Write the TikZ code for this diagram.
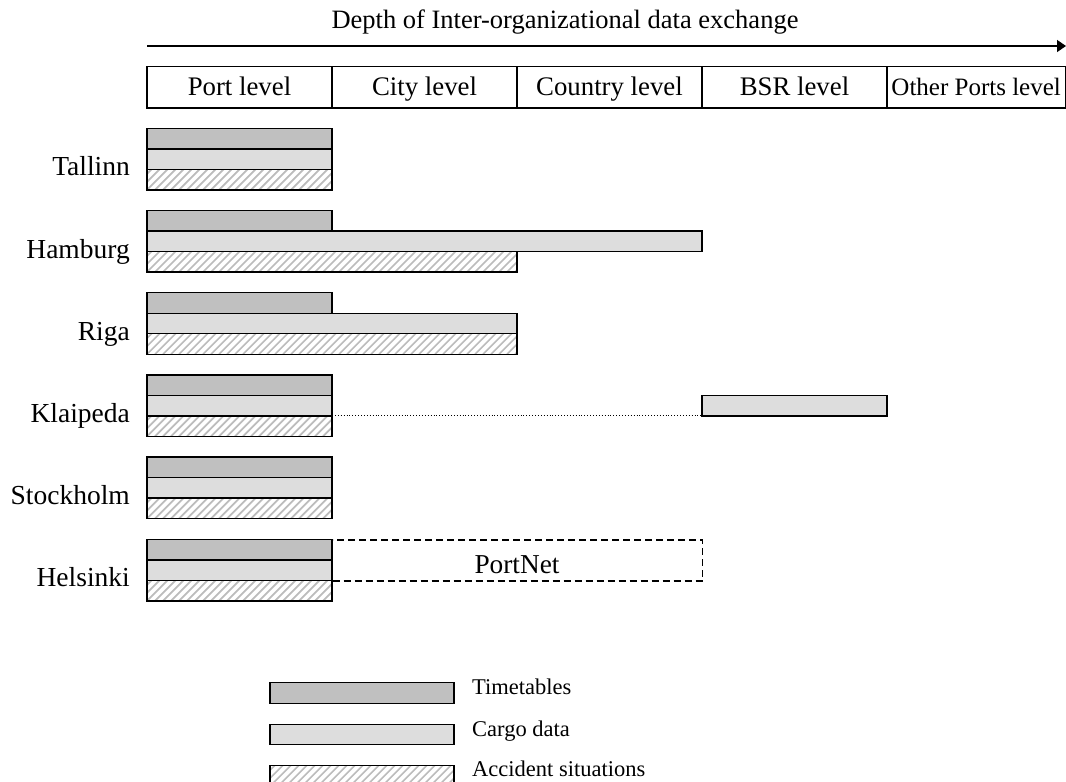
\documentclass[tikz,border=0pt]{standalone}
\usepackage{fontspec}
\setmainfont{Liberation Serif}
\usetikzlibrary{arrows.meta}

\definecolor{timefill}{RGB}{192,192,192}
\definecolor{cargofill}{RGB}{221,221,221}
\definecolor{hatchgray}{RGB}{188,188,188}

\tikzset{
  barbase/.style={draw=black, line width=1.4pt, inner sep=0pt, outer sep=0pt,
    anchor=north west, minimum height=20.5pt},
  timebar/.style={barbase, fill=timefill},
  cargobar/.style={barbase, fill=cargofill},
  accbar/.style={barbase, fill=white,
    path picture={\foreach \k in {-24,-16,...,400}
      \draw[hatchgray, line width=1.7pt]
        ([xshift=\k pt]path picture bounding box.south west) -- ++(26pt,26pt);}},
  levelbox/.style={draw=black, line width=1.4pt, inner sep=0pt, outer sep=0pt,
    anchor=north west, minimum height=41.3pt, minimum width=185pt,
    text height=20pt, text depth=4.7pt,
    font=\fontsize{26.8pt}{30pt}\selectfont},
  citylabel/.style={anchor=base east, inner sep=0pt,
    font=\fontsize{27.5pt}{30pt}\selectfont},
  legendtext/.style={anchor=base west, inner sep=0pt,
    font=\fontsize{22.5pt}{26pt}\selectfont},
}

\begin{document}
\begin{tikzpicture}[x=1pt, y=-1pt]
\useasboundingbox (0,0) rectangle (1066,782);

% title and depth axis
\node[font=\fontsize{26.5pt}{30pt}\selectfont] (title) at (565,22)
  {Depth of Inter-organizational data exchange};
\coordinate (axis-start) at (147,46);
\coordinate (axis-end) at (1066,46);
\draw[line width=1.4pt, -{Triangle[length=9pt,width=12pt]}] (axis-start) -- (axis-end);

% level header boxes
\node[levelbox] (lv-port)    at (147,66.7) {Port level};
\node[levelbox] (lv-city)    at (332,66.7) {City level};
\node[levelbox] (lv-country) at (517,66.7) {Country level};
\node[levelbox] (lv-bsr)     at (702,66.7) {BSR level};
\node[levelbox, minimum width=178.3pt, font=\fontsize{25pt}{28pt}\selectfont]
  (lv-other) at (887,66.7) {Other Ports level};

% Tallinn
\node[timebar,  minimum width=185pt] (tal-t) at (147,128.3) {};
\node[cargobar, minimum width=185pt] (tal-c) at (147,148.8) {};
\node[accbar,   minimum width=185pt] (tal-a) at (147,169.3) {};
\node[citylabel] (lbl-tal) at (130,175.9) {Tallinn};

% Hamburg
\node[timebar,  minimum width=185pt] (ham-t) at (147,210.5) {};
\node[cargobar, minimum width=555pt] (ham-c) at (147,231.0) {};
\node[accbar,   minimum width=370pt] (ham-a) at (147,251.5) {};
\node[citylabel] (lbl-ham) at (130,258.1) {Hamburg};

% Riga
\node[timebar,  minimum width=185pt] (rig-t) at (147,292.7) {};
\node[cargobar, minimum width=370pt] (rig-c) at (147,313.2) {};
\node[accbar,   minimum width=370pt] (rig-a) at (147,333.7) {};
\node[citylabel] (lbl-rig) at (130,340.3) {Riga};

% Klaipeda
\node[timebar,  minimum width=185pt] (kla-t) at (147,374.9) {};
\node[cargobar, minimum width=185pt] (kla-c) at (147,395.4) {};
\node[accbar,   minimum width=185pt] (kla-a) at (147,415.9) {};
\node[cargobar, minimum width=185pt] (kla-b) at (702,395.4) {};
\draw[dotted, line width=0.9pt] (kla-c.south east) -- (kla-b.south west);
\node[citylabel] (lbl-kla) at (130,422.5) {Klaipeda};

% Stockholm
\node[timebar,  minimum width=185pt] (sto-t) at (147,457.1) {};
\node[cargobar, minimum width=185pt] (sto-c) at (147,477.6) {};
\node[accbar,   minimum width=185pt] (sto-a) at (147,498.1) {};
\node[citylabel] (lbl-sto) at (130,504.7) {Stockholm};

% Helsinki
\node[timebar,  minimum width=185pt] (hel-t) at (147,539.3) {};
\node[cargobar, minimum width=185pt] (hel-c) at (147,559.8) {};
\node[accbar,   minimum width=185pt] (hel-a) at (147,580.3) {};
\node[draw, dash pattern=on 7pt off 4pt, line width=1.2pt, inner sep=0pt,
  anchor=north west, minimum width=370pt, minimum height=41pt]
  (hel-portnet) at (332,539.3) {};
\node[anchor=base, inner sep=0pt, font=\fontsize{27.3pt}{30pt}\selectfont]
  (hel-portnet-txt) at (517,573.5) {PortNet};
\node[citylabel] (lbl-hel) at (130,586.9) {Helsinki};

% legend
\node[timebar,  minimum width=184pt] (leg-t) at (270,682.7) {};
\node[legendtext] (leg-t-txt) at (472,694.7) {Timetables};
\node[cargobar, minimum width=184pt] (leg-c) at (270,724.2) {};
\node[legendtext] (leg-c-txt) at (472,736.0) {Cargo data};
\node[accbar,   minimum width=184pt] (leg-a) at (270,765.7) {};
\node[legendtext] (leg-a-txt) at (472,776.7) {Accident situations};
\end{tikzpicture}
\end{document}
